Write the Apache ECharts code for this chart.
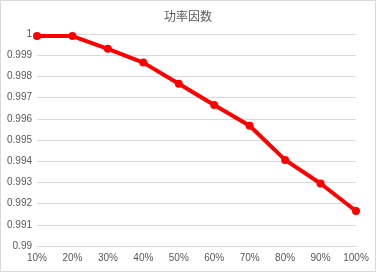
<!DOCTYPE html>
<html><head><meta charset="utf-8">
<script src="https://cdn.jsdelivr.net/npm/echarts@6/dist/echarts.min.js"></script>
<style>html,body{margin:0;padding:0;background:#fff}#c{width:376px;height:272px;box-sizing:border-box;border:1px solid #d9d9d9}</style>
</head><body><div id="c"></div>
<script>
var titleText = '功率因数';
var categories = ['10%','20%','30%','40%','50%','60%','70%','80%','90%','100%'];
var values = [0.9999, 0.9999, 0.9993, 0.99865, 0.99765, 0.99665, 0.99567, 0.99406, 0.99295, 0.99165];
var yMin = 0.99, yMax = 1, yStep = 0.001;
var chart = echarts.init(document.getElementById('c'));
chart.setOption({
  animation: false,
  title: {text: titleText, left: 'center', top: 4, textStyle: {fontFamily: 'Noto Sans CJK SC', fontSize: 12, fontWeight: 'normal', color: '#595959'}},
  grid: {left: 36, right: 19, top: 33, bottom: 25, containLabel: false},
  xAxis: {type: 'category', data: categories, boundaryGap: false,
    axisLine: {show: true, lineStyle: {color: '#d9d9d9'}}, axisTick: {show: false},
    axisLabel: {color: '#595959', fontSize: 10, fontFamily: 'Liberation Sans', margin: 7}},
  yAxis: {type: 'value', min: yMin, max: yMax, interval: yStep,
    axisLine: {show: false}, axisTick: {show: false},
    splitLine: {lineStyle: {color: '#d9d9d9'}},
    axisLabel: {color: '#595959', fontSize: 10, fontFamily: 'Liberation Sans', margin: 5,
      formatter: function(v){ return String(+v.toFixed(3)); }}},
  series: [{type: 'line', data: values, symbol: 'circle', symbolSize: 8,
    lineStyle: {color: '#ff0000', width: 4}, itemStyle: {color: '#ff0000'}}]
});
</script></body></html>
